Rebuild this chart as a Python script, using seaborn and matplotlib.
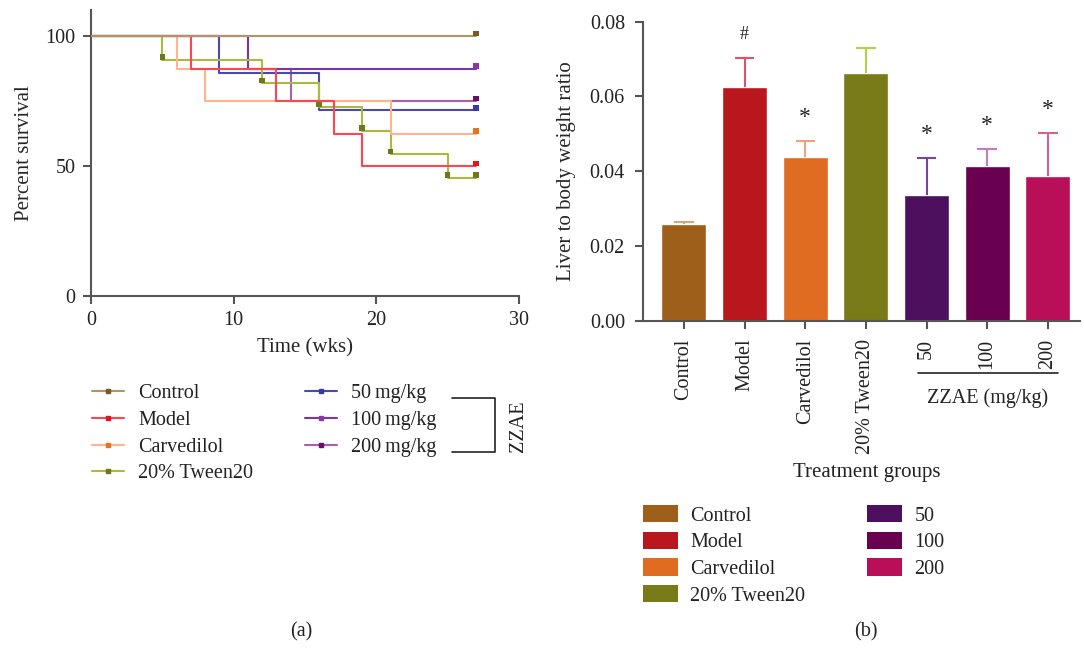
import numpy as np
import pandas as pd
import matplotlib
matplotlib.use("Agg")
import matplotlib.pyplot as plt
import seaborn as sns
from matplotlib.lines import Line2D
from matplotlib.patches import Patch

# ---------------- data ----------------
groups = ["Control", "Model", "Carvedilol", "20% Tween20", "50", "100", "200"]
surv_labels = ["Control", "Model", "Carvedilol", "20% Tween20",
               "50\u2009mg/kg", "100\u2009mg/kg", "200\u2009mg/kg"]

# Kaplan-Meier steps (weeks, percent survival)
ctrl_t = [0, 27];                       ctrl_s = [100, 100]
model_t = [0, 7, 13, 17, 19, 27];       model_s = [100, 87.5, 75, 62.5, 50, 50]
carv_t = [0, 6, 8, 21, 27];             carv_s = [100, 87.5, 75, 62.5, 62.5]
tween_t = [0, 5, 12, 16, 19, 21, 25, 27]
tween_s = [100, 90.9, 81.8, 72.7, 63.6, 54.5, 45.5, 45.5]
z50_t = [0, 9, 16, 27];                 z50_s = [100, 85.7, 71.4, 71.4]
z100_t = [0, 11, 27];                   z100_s = [100, 87.5, 87.5]
z200_t = [0, 11, 14, 27];               z200_s = [100, 87.5, 75, 75]

# Liver / body weight ratio
ratio_mean = [0.0258, 0.0625, 0.0437, 0.0662, 0.0335, 0.0413, 0.0386]
ratio_err = [0.0007, 0.0078, 0.0044, 0.0067, 0.0101, 0.0046, 0.0115]
sig_marks = ["", "#", "*", "", "*", "*", "*"]

# ---------------- style ----------------
sns.set_style("ticks")
plt.rcParams["font.family"] = ["Liberation Serif", "DejaVu Serif"]
plt.rcParams["font.size"] = 14.5
plt.rcParams["axes.edgecolor"] = "#555555"
plt.rcParams["xtick.color"] = "#555555"
plt.rcParams["ytick.color"] = "#555555"
plt.rcParams["xtick.labelcolor"] = "#222222"
plt.rcParams["ytick.labelcolor"] = "#222222"
plt.rcParams["text.color"] = "#222222"

line_cols = ["#B49466", "#FF4452", "#FFB48C", "#ABBA3C", "#4A4AAA", "#7A36A2", "#A860AE"]
mark_cols = ["#7A5A20", "#E21424", "#E47424", "#6E7818", "#3838AA", "#8A36AA", "#6A0E62"]
bar_cols = ["#9E5F1B", "#B9161D", "#E06C21", "#787B17", "#4C105E", "#6A0050", "#B80F58"]
err_cols = ["#CDAA80", "#E2506A", "#F4A080", "#B4D048", "#7244A4", "#C07EC2", "#D0648E"]

W, H = 1084, 652
fig = plt.figure(figsize=(W / 100, H / 100), dpi=100)

def fx(p):
    return p / W

def fy(p):
    return 1 - p / H

# ---------------- (a) survival ----------------
ax1 = fig.add_axes([fx(91), fy(296), fx(519 - 91), (296 - 10) / H])
series = [(ctrl_t, ctrl_s), (model_t, model_s), (carv_t, carv_s), (tween_t, tween_s),
          (z50_t, z50_s), (z100_t, z100_s), (z200_t, z200_s)]
draw_order = [6, 5, 4, 3, 2, 1, 0]
for i in draw_order:
    t, s = series[i]
    df = pd.DataFrame({"t": t, "s": s})
    sns.lineplot(data=df, x="t", y="s", drawstyle="steps-post", color=line_cols[i],
                 lw=1.5, estimator=None, sort=False, ax=ax1, zorder=2 + (i == 0))
    # censor marks at end
    sns.scatterplot(x=[t[-1]], y=[s[-1] + 1.0], marker="s", s=16, color=mark_cols[i],
                    edgecolor="none", ax=ax1, zorder=5)
# tween marks at each drop
tw = pd.DataFrame({"t": tween_t[1:-1], "s": np.array(tween_s[1:-1]) + 1.0})
sns.scatterplot(data=tw, x="t", y="s", marker="s", s=16, color=mark_cols[3],
                edgecolor="none", ax=ax1, zorder=5)

ax1.set_xlim(0, 30)
ax1.set_ylim(0, 110)
ax1.set_xticks([0, 10, 20, 30])
ax1.set_yticks([0, 50, 100])
ax1.set_xlabel("Time (wks)", fontsize=15, labelpad=6)
ax1.set_ylabel("Percent survival", fontsize=15, labelpad=8)
ax1.tick_params(length=6, width=1.5, labelsize=14.5, pad=5)
for sp in ["left", "bottom"]:
    ax1.spines[sp].set_linewidth(1.5)
sns.despine(ax=ax1)

# legends for (a)
def surv_handle(i):
    return Line2D([0], [0], color=line_cols[i], lw=1.5, marker="s", markersize=3.5,
                  markerfacecolor=mark_cols[i], markeredgecolor=mark_cols[i])

lg_kw = dict(frameon=False, fontsize=14.5, handlelength=1.6, handletextpad=0.7,
             labelspacing=0.38, borderpad=0, borderaxespad=0, loc="upper left")
fig.legend([surv_handle(i) for i in range(4)], surv_labels[:4],
           bbox_to_anchor=(fx(92), fy(384)), **lg_kw)
fig.legend([surv_handle(i) for i in range(4, 7)], surv_labels[4:],
           bbox_to_anchor=(fx(305), fy(384)), **lg_kw)
# bracket
fig.add_artist(Line2D([fx(452), fx(495), fx(495), fx(452)],
                      [fy(398), fy(398), fy(452), fy(452)], color="#222222", lw=1.2))
fig.text(fx(518), fy(426), "ZZAE", rotation=90, ha="center", va="center", fontsize=14.5)
fig.text(fx(301), fy(632), "(a)", ha="center", va="center", fontsize=14.5)

# ---------------- (b) bars ----------------
ax2 = fig.add_axes([fx(643), fy(320.5), fx(1080 - 643), (320.5 - 21.7) / H])
bdf = pd.DataFrame({"group": groups, "ratio": ratio_mean})
sns.barplot(data=bdf, x="group", y="ratio", hue="group", palette=bar_cols,
            legend=False, width=0.74, saturation=1, errorbar=None, ax=ax2, zorder=2)
cap_half = 0.16
for i in range(len(groups)):
    top = ratio_mean[i] + ratio_err[i]
    ax2.vlines(i, ratio_mean[i], top, color=err_cols[i], lw=1.5, zorder=3)
    ax2.hlines(top, i - cap_half, i + cap_half, color=err_cols[i], lw=1.5, zorder=3)
for i, m in enumerate(sig_marks):
    if m:
        ax2.annotate(m, (i, ratio_mean[i] + ratio_err[i]), xytext=(0, 17),
                     textcoords="offset points", ha="center", va="center",
                     fontsize=17 if m == "*" else 13)
ax2.set_xlim(-0.675, 6.53)
ax2.set_ylim(0, 0.08)
ax2.set_yticks([0, 0.02, 0.04, 0.06, 0.08])
ax2.set_yticklabels(["0.00", "0.02", "0.04", "0.06", "0.08"])
ax2.set_xticks(range(len(groups)))
ax2.set_xticklabels(groups, rotation=90, va="top", ha="center")
ax2.set_xlabel("")
ax2.set_ylabel("Liver to body weight ratio", fontsize=15, labelpad=10)
ax2.tick_params(length=6, width=1.5, labelsize=14.5, pad=7)
for sp in ["left", "bottom"]:
    ax2.spines[sp].set_linewidth(1.5)
sns.despine(ax=ax2)

fig.add_artist(Line2D([fx(918), fx(1058)], [fy(373), fy(373)], color="#222222", lw=1.2))
fig.text(fx(988), fy(398), "ZZAE (mg/kg)", ha="center", va="center", fontsize=14.5)
fig.text(fx(867), fy(473), "Treatment groups", ha="center", va="center", fontsize=15)

bar_handles = [Patch(facecolor=c, edgecolor="none") for c in bar_cols]
lgb_kw = dict(frameon=False, fontsize=14.5, handlelength=1.75, handleheight=0.95,
              handletextpad=0.6, labelspacing=0.3, borderpad=0, borderaxespad=0,
              loc="upper left")
fig.legend(bar_handles[:4], groups[:4], bbox_to_anchor=(fx(643), fy(505)), **lgb_kw)
fig.legend(bar_handles[4:], groups[4:], bbox_to_anchor=(fx(867), fy(505)), **lgb_kw)
fig.text(fx(866), fy(632), "(b)", ha="center", va="center", fontsize=14.5)

fig.savefig("out.png", dpi=100)
